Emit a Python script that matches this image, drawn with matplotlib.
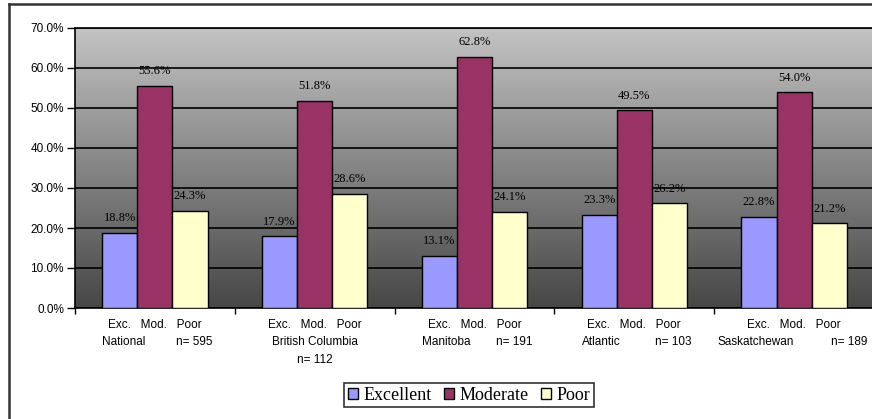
import numpy as np
import matplotlib
matplotlib.use('Agg')
import matplotlib.pyplot as plt
from matplotlib.colors import LinearSegmentedColormap
from matplotlib.lines import Line2D

# Survey results by region (percent of respondents)
regions = ['National', 'British Columbia', 'Manitoba', 'Atlantic', 'Saskatchewan']
sample_sizes = [595, 112, 191, 103, 189]
excellent = [18.8, 17.9, 13.1, 23.3, 22.8]
moderate = [55.6, 51.8, 62.8, 49.5, 54.0]
poor = [24.3, 28.6, 24.1, 26.2, 21.2]
y_ticks = [0, 10, 20, 30, 40, 50, 60, 70]

series = [('Excellent', excellent, '#9999ff'),
          ('Moderate', moderate, '#993366'),
          ('Poor', poor, '#ffffcc')]

sans = 'Liberation Sans'
serif = 'Liberation Serif'

fig = plt.figure(figsize=(8.72, 4.19), dpi=100)
ax = fig.add_axes([75 / 872, 111 / 419, 799 / 872, 280 / 419])

# grey gradient backdrop, light at top and dark at the bottom
grad = np.linspace(0, 1, 256).reshape(-1, 1)
cmap = LinearSegmentedColormap.from_list('bg', ['#474747', '#c3c3c3'])
ax.imshow(grad, extent=[0, 1, 0, 1], transform=ax.transAxes, origin='lower',
          aspect='auto', cmap=cmap, zorder=0)

x = np.arange(len(regions))
width = 0.22
for k, (name, vals, color) in enumerate(series):
    pos = x + (k - 1) * width
    ax.bar(pos, vals, width, color=color, edgecolor='black', linewidth=1,
           label=name, zorder=3)
    for xi, v in zip(pos, vals):
        ax.annotate(f'{v:.1f}%', (xi, v), xytext=(0, 6), textcoords='offset points',
                    ha='center', va='bottom', fontsize=9, family=serif, zorder=5)

ax.set_xlim(-0.5, len(regions) - 0.5)
ax.set_ylim(0, 70)
ax.set_yticks(y_ticks)
ax.set_yticklabels([f'{t:.1f}%' for t in y_ticks], family=sans, fontsize=8.5)
ax.yaxis.grid(True, color='black', linewidth=1.2, zorder=1)
ax.set_axisbelow(True)
ax.tick_params(axis='y', length=6, width=1, pad=2)

ax.set_xticks([])
ax.set_xticks(np.arange(-0.5, len(regions)), minor=True)
ax.tick_params(axis='x', which='minor', length=4, width=1)
for s in ax.spines.values():
    s.set_linewidth(1.2)

# category labels under each group
trans = ax.get_xaxis_transform()
fs = 8.5
row1, row2, row3 = -0.04, -0.1, -0.165
for xi, name, n in zip(x, regions, sample_sizes):
    ax.text(xi, row1, 'Exc.   Mod.   Poor', transform=trans, ha='center', va='top',
            fontsize=fs, family=sans)
    if name == 'British Columbia':
        ax.text(xi, row2, name, transform=trans, ha='center', va='top',
                fontsize=fs, family=sans)
        ax.text(xi, row3, f'n= {n}', transform=trans, ha='center', va='top',
                fontsize=fs, family=sans)
    elif name == 'Saskatchewan':
        ax.text(xi - 0.48, row2, name, transform=trans, ha='left', va='top',
                fontsize=fs, family=sans)
        ax.text(xi + 0.46, row2, f'n= {n}', transform=trans, ha='right', va='top',
                fontsize=fs, family=sans)
    else:
        ax.text(xi - 0.33, row2, name, transform=trans, ha='left', va='top',
                fontsize=fs, family=sans)
        ax.text(xi + 0.36, row2, f'n= {n}', transform=trans, ha='right', va='top',
                fontsize=fs, family=sans)

leg = fig.legend(loc='center', bbox_to_anchor=(469 / 872, 1 - 395 / 419), ncol=3,
                 prop={'family': serif, 'size': 13}, frameon=True, fancybox=False,
                 edgecolor='black', handlelength=0.55, handleheight=0.55,
                 handletextpad=0.3, columnspacing=0.7, borderpad=0.2,
                 borderaxespad=0)
leg.get_frame().set_linewidth(1.2)

# chart area border (top and left edges)
fig.add_artist(Line2D([9 / 872, 1.0], [1 - 4 / 419, 1 - 4 / 419],
                      transform=fig.transFigure, color='#333333', linewidth=1.8))
fig.add_artist(Line2D([9 / 872, 9 / 872], [0, 1 - 4 / 419],
                      transform=fig.transFigure, color='#333333', linewidth=1.8))

fig.savefig('out.png', dpi=100)
